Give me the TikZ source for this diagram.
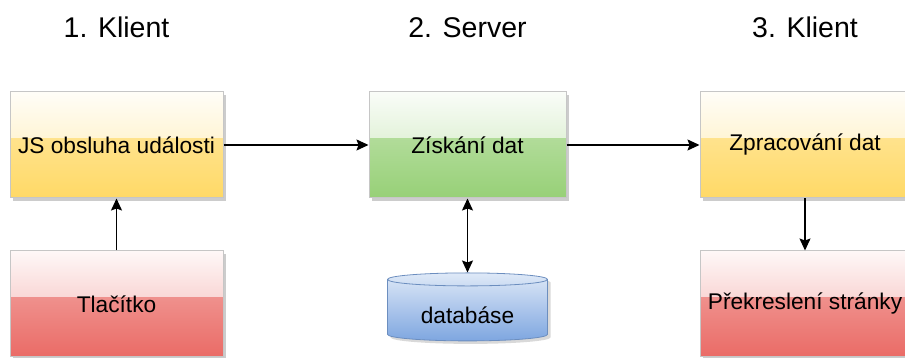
\documentclass[tikz,border=0pt]{standalone}
\usepackage{fontspec}
\setmainfont{Liberation Sans}
\usepackage{xcolor}
\usepackage{tikz}
\usetikzlibrary{positioning,shapes.geometric,shadows,calc,arrows.meta}

\definecolor{clientyellow}{HTML}{FFD966}
\definecolor{servergreen}{HTML}{97D077}
\definecolor{buttonred}{HTML}{EA6B66}
\definecolor{dbblue}{HTML}{7EA6E0}
\definecolor{dbline}{HTML}{6C8EBF}

\begin{document}
\begin{tikzpicture}[
	glassbox/.style={rectangle, draw=gray!45, line width=1pt, minimum width=213pt, minimum height=106pt,
		font=\fontsize{22.7}{27}\selectfont,
		drop shadow={shadow xshift=3pt, shadow yshift=-3pt, fill=gray!40, opacity=1},
		path picture={
			\shade[top color=#1!5!white, bottom color=#1!55!white] (path picture bounding box.north west) rectangle ($(path picture bounding box.north east)!0.44!(path picture bounding box.south east)$);
			\shade[top color=#1!75!white, bottom color=#1] ($(path picture bounding box.north west)!0.44!(path picture bounding box.south west)$) rectangle (path picture bounding box.south east);
		}},
	titlenode/.style={inner sep=0pt, font=\fontsize{28.5}{34}\selectfont},
	dbnode/.style={cylinder, shape border rotate=90, aspect=0.13, draw=dbline, line width=0.8pt,
		top color=dbblue!25!white, bottom color=dbblue, minimum width=160pt, minimum height=68pt,
		font=\fontsize{22.7}{27}\selectfont,
		drop shadow={shadow xshift=3pt, shadow yshift=-3pt, fill=gray!30, opacity=1}},
	flow/.style={line width=1.3pt, -{Stealth[length=12pt, width=11pt, inset=2pt]}},
	]
	\useasboundingbox (0,0) rectangle (905pt,358pt);
	%Nodes
	\node[glassbox=clientyellow](js) at (116.5pt,213pt){JS obsluha události};
	\node[glassbox=servergreen](ziskani)[minimum width=197pt, right=145pt of js]{Získání dat};
	\node[glassbox=clientyellow](zpracovani)[minimum width=210pt, right=133pt of ziskani]{Zpracování dat};

	\node[glassbox=buttonred](tlacitko)[below=52pt of js]{Tlačítko};
	\node[glassbox=buttonred](prekresleni)[minimum width=210pt, below=52pt of zpracovani]{Překreslení stránky};
	\node[dbnode](db)[below=74pt of ziskani]{\raisebox{-4pt}[\height][0pt]{databáse}};

	\node[titlenode](klient1)[above=54pt of js]{1. Klient};
	\node[titlenode](server)[above=54pt of ziskani]{2. Server};
	\node[titlenode](klient3)[above=54pt of zpracovani]{3. Klient};

	%Lines
	\draw[flow] (js.east) -- (ziskani.west);
	\draw[flow] (ziskani.east) -- (zpracovani.west);
	\draw[flow] (tlacitko.north) -- (js.south);
	\draw[flow] (zpracovani.south) -- (prekresleni.north);
	\draw[flow, {Stealth[length=12pt, width=11pt, inset=2pt]}-{Stealth[length=12pt, width=11pt, inset=2pt]}] (ziskani.south) -- (db.north);
\end{tikzpicture}
\end{document}
